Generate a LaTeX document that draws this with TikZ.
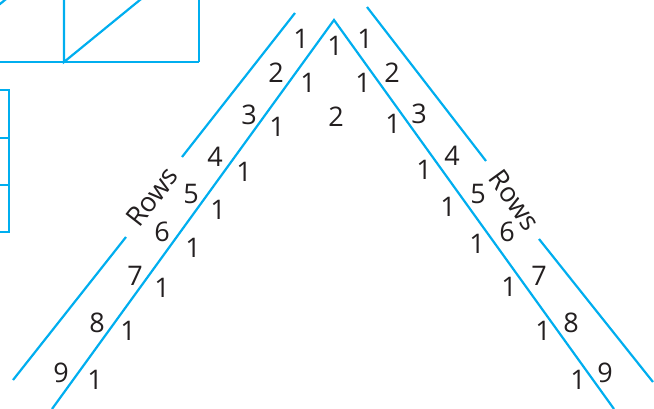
\documentclass[tikz,border=0pt]{standalone}
\usepackage{fontspec}
\setmainfont{Open Sans}
\usetikzlibrary{calc}
\definecolor{cyan}{HTML}{00AEEF}
\definecolor{ink}{HTML}{231F20}

\begin{document}
\begin{tikzpicture}[x=1pt,y=-1pt,
  edge/.style={draw=cyan,line width=2.2pt},
  num/.style={text=ink,inner sep=0pt,font=\fontsize{27}{30}\selectfont}]
\useasboundingbox (0,0) rectangle (654,409);
\clip (0,0) rectangle (654,409);
% boxes at the top left
\draw[edge] (-71,62) -- (199,62);
\draw[edge] (64,-5) -- (64,62) -- (146,-5);
\draw[edge] (199,-5) -- (199,62);
\draw[edge] (-71,62) -- (11,-5);
\draw[edge] (-5,90) -| (9,232) -- (-5,232);
\foreach \y in {138,185}{\draw[edge] (-5,\y) -- (9,\y);}
% sides of the triangle
\coordinate (apex) at (334,20);
\coordinate (inL) at (52,409);
\coordinate (inR) at (614,409);
\draw[edge] (inL) -- (apex) -- (inR);
\coordinate (oL1) at (295,13);
\coordinate (oL2) at (182,157);
\coordinate (oL3) at (126,237);
\coordinate (oL4) at (13,380);
\coordinate (oR1) at (367,7);
\coordinate (oR2) at (486,161);
\coordinate (oR3) at (539,239);
\coordinate (oR4) at (653,382);
\draw[edge] (oL1) -- (oL2) (oL3) -- (oL4);
\draw[edge] (oR1) -- (oR2) (oR3) -- (oR4);
\node[num,rotate=52] (rowsL) at ($(oL2)!0.5!(oL3)+(-2,0)$) {Rows};
\node[num,rotate=-54] (rowsR) at ($(oR2)!0.5!(oR3)+(2,0)$) {Rows};
% row numbers
\foreach \r/\x/\y in {1/301/39,2/276/73,3/249/115,4/215/157,5/191/194,
  6/162/232,7/135/276,8/97/323,9/61/373}
{
  \node[num] (rl\r) at (\x,\y) {\r};
}
\foreach \r/\x/\y in {1/365/39,2/392/73,3/419/114,4/452/156,5/478/194,
  6/507/232,7/539/276,8/571/323,9/605/373}
{
  \node[num] (rr\r) at (\x,\y) {\r};
}
% entries of the triangle
\node[num] (e0) at (335,46) {1};
\foreach \r/\x/\y in {1/308/83,2/277/127,3/244/172,4/218/210,5/193/248,
  6/162/288,7/128/331,8/95/380}
{
  \node[num] (el\r) at (\x,\y) {1};
}
\foreach \r/\x/\y in {1/363/83,2/393/124,3/424/170,4/448/207,5/477/244,
  6/509/287,7/543/331,8/578/380}
{
  \node[num] (er\r) at (\x,\y) {1};
}
\node[num] (e2m) at (336,117) {2};
\end{tikzpicture}
\end{document}
